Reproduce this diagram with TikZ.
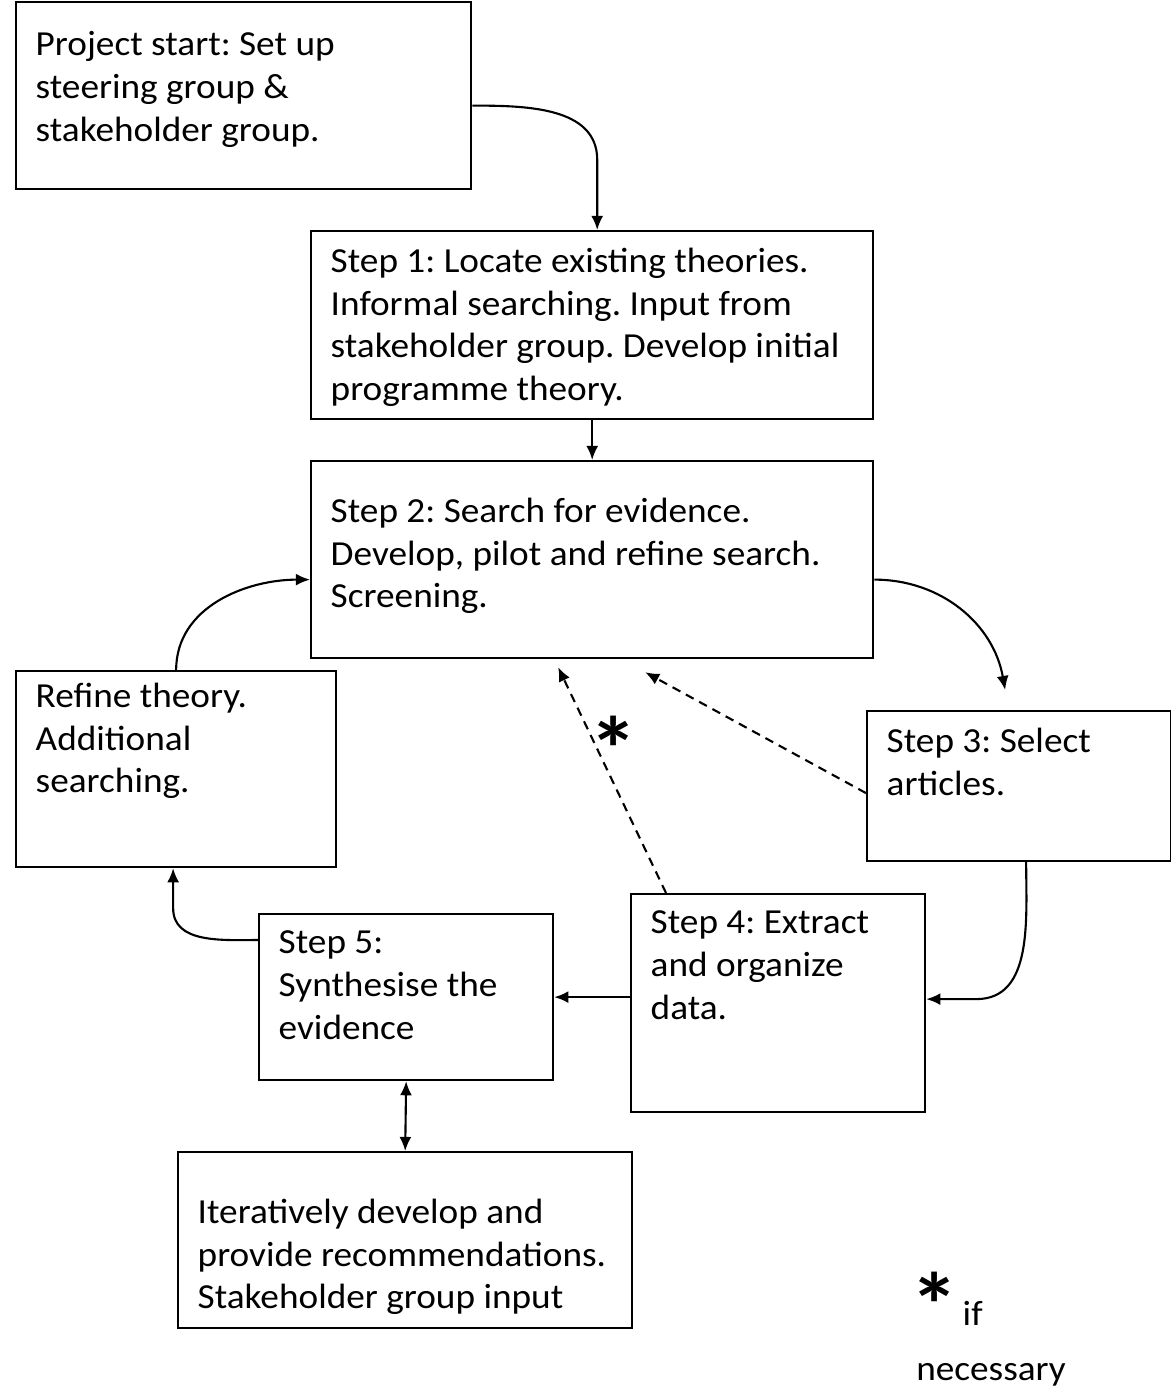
\documentclass[tikz,border=0pt]{standalone}
\usepackage{fontspec}
\setmainfont[FakeStretch=1.06]{Carlito}
\usetikzlibrary{arrows.meta}
\tikzset{
  >={Latex[length=4pt,width=3.4pt]}
}

\begin{document}
\frenchspacing
\begin{tikzpicture}[x=0.01cm,y=-0.01cm,
    box/.style={draw, semithick, anchor=north west, inner sep=0pt},
    txt/.style={anchor=north west, align=left, inner xsep=0.2cm, inner ysep=0.17cm,
      font=\fontsize{10}{12.2}\selectfont},
    link/.style={semithick,->},
    maybe/.style={semithick,->,dash pattern=on 2.5pt off 1.8pt}]
    \useasboundingbox (0,0) rectangle (1171,1386);
    % boxes
    \node[box, minimum width=4.55cm, minimum height=1.87cm,
      label={[txt, inner ysep=0.3cm]north west:{Project start: Set up\\steering group \&\\stakeholder group.}}] (start) at (15,1) {};
    \node[box, minimum width=5.62cm, minimum height=1.88cm,
      label={[txt]north west:{Step 1: Locate existing theories.\\Informal searching. Input from\\stakeholder group. Develop initial\\programme theory.}}] (step1) at (310,230) {};
    \node[box, minimum width=5.62cm, minimum height=1.97cm,
      label={[txt, inner ysep=0.37cm]north west:{Step 2: Search for evidence.\\Develop, pilot and refine search.\\Screening.}}] (step2) at (310,460) {};
    \node[box, minimum width=3.04cm, minimum height=1.50cm,
      label={[txt]north west:{Step 3: Select\\articles.}}] (step3) at (866,710) {};
    \node[box, minimum width=3.20cm, minimum height=1.96cm,
      label={[txt, inner ysep=0.12cm]north west:{Refine theory.\\Additional\\searching.}}] (refine) at (15,670) {};
    \node[box, minimum width=2.94cm, minimum height=2.18cm,
      label={[txt]north west:{Step 4: Extract\\and organize\\data.}}] (step4) at (630,893) {};
    \node[box, minimum width=2.94cm, minimum height=1.66cm,
      label={[txt]north west:{Step 5:\\Synthesise the\\evidence}}] (step5) at (258,913) {};
    \node[box, minimum width=4.54cm, minimum height=1.76cm,
      label={[txt, inner ysep=0.47cm]north west:{Iteratively develop and\\provide recommendations.\\Stakeholder group input}}] (iter) at (177,1151) {};
    % arrows
    \draw[link] ([yshift=-0.1cm]start.east) to[out=0,in=90] ([xshift=0.05cm,yshift=0.7cm]step1.north) -- ([xshift=0.05cm]step1.north);
    \draw[link] (step1.south) -- (step2.north);
    \draw[link] ([yshift=-0.2cm]step2.east) to[out=0,in=100] ([xshift=-0.14cm,yshift=0.2cm]step3.north);
    \draw[link] ([xshift=0.07cm]step3.south) to[out=-90,in=0] ([xshift=0.5cm,yshift=0.04cm]step4.east) -- ([yshift=0.04cm]step4.east);
    \draw[link] (step4.west |- step5.east) -- (step5.east);
    \draw[link] ([yshift=-0.27cm]step5.north west) to[out=180,in=-90] ([xshift=-0.03cm,yshift=-0.4cm]refine.south) -- ([xshift=-0.03cm]refine.south);
    \draw[link] (refine.north) to[out=90,in=180] ([yshift=-0.2cm]step2.west);
    \draw[semithick,<->] (step5.south) -- (iter.north);
    \draw[maybe] ([xshift=0.36cm]step4.north west) -- ([xshift=2.48cm,yshift=-0.08cm]step2.south west);
    \draw[maybe] ([yshift=-0.07cm]step3.west) -- ([xshift=3.35cm,yshift=-0.13cm]step2.south west);
    % if necessary
    \node[font=\fontsize{26}{26}\bfseries] (star) at (614,749) {*};
    \node[font=\fontsize{26}{26}\bfseries] (key) at (935,1305) {*};
    \node[anchor=base west, font=\fontsize{10}{12.2}\selectfont, inner sep=0pt] (keyif) at (962,1325) {if};
    \node[anchor=base, font=\fontsize{10}{12.2}\selectfont, inner sep=0pt] (keytxt) at (991,1380) {necessary};
\end{tikzpicture}
\end{document}
